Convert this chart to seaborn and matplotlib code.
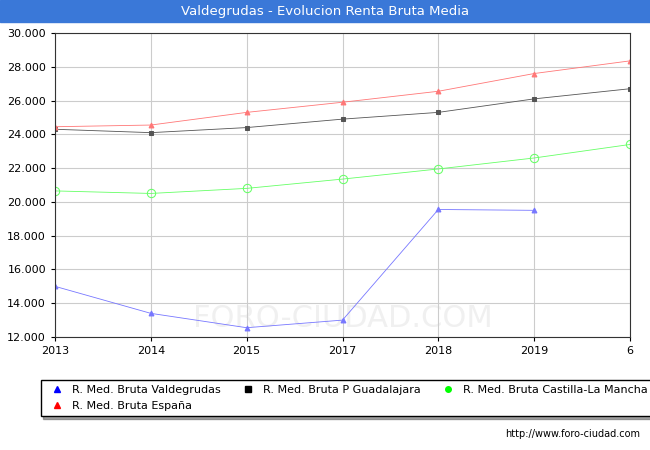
import matplotlib
matplotlib.use("Agg")
import matplotlib.pyplot as plt
import seaborn as sns
import numpy as np

years = ["2013", "2014", "2015", "2017", "2018", "2019", "6"]
valdegrudas = [15000, 13400, 12550, 13000, 19550, 19500, np.nan]
guadalajara = [24300, 24100, 24400, 24900, 25300, 26100, 26700]
clm = [20650, 20500, 20800, 21350, 21950, 22600, 23400]
espana = [24450, 24550, 25300, 25900, 26550, 27600, 28350]

fig = plt.figure(figsize=(6.5, 4.5), dpi=100)
fig.patch.set_facecolor("white")
ax = fig.add_axes([55/650, 1-337/450, 575/650, 304/450])
x = np.arange(len(years))

ax.text(0.5, 0.06, "FORO-CIUDAD.COM", fontsize=22, color="#f0f0f0",
        ha="center", va="center", transform=ax.transAxes, zorder=0)

series = [
    ("R. Med. Bruta Valdegrudas", valdegrudas, "#7777ff", "^", "#0000ff"),
    ("R. Med. Bruta P Guadalajara", guadalajara, "#555555", "s", "#000000"),
    ("R. Med. Bruta Castilla-La Mancha", clm, "#66ff66", "o", "#00ff00"),
    ("R. Med. Bruta España", espana, "#ff7777", "^", "#ff0000"),
]
handles = {}
for label, vals, col, mk, legcol in series:
    v = np.array(vals, dtype=float)
    ms = 6 if mk == "o" else 3.5
    fc = "none" if mk == "o" else col
    sns.lineplot(x=x, y=v, ax=ax, color=col, lw=0.6, marker=mk, markersize=ms,
                 markerfacecolor=fc, markeredgecolor=col, legend=False)
    h, = ax.plot([], [], ls="none", marker=mk, color=legcol, markersize=4)
    handles[label] = h

ax.set_xlim(0, len(years)-1)
ax.set_ylim(12000, 30000)
ax.set_xticks(x)
ax.set_xticklabels(years, fontsize=8)
yt = np.arange(12000, 30001, 2000)
ax.set_yticks(yt)
ax.set_yticklabels([f"{v:,}".replace(",", ".") for v in yt], fontsize=8)
ax.grid(True, color="#cccccc", lw=0.8)
ax.set_axisbelow(True)
for s in ax.spines.values():
    s.set_color("#333333")
ax.tick_params(length=3)

fig.patches.append(plt.Rectangle((0, 1-22/450), 1, 22/450, transform=fig.transFigure,
                                 color="#3a78d8", zorder=0))
fig.text(0.5, 1-11/450, "Valdegrudas - Evolucion Renta Bruta Media", color="white",
         fontsize=9.5, ha="center", va="center")

order = [series[0][0], series[3][0], series[1][0], series[2][0]]
leg = fig.legend([handles[l] for l in order], order, ncol=3,
                 loc="upper left", bbox_to_anchor=(35/650, 1-374/450), fontsize=8,
                 frameon=True, fancybox=False, shadow=True, edgecolor="black",
                 handletextpad=0.3, columnspacing=1.5, borderpad=0.5)
fig.text(640/650, 1-434/450, "http://www.foro-ciudad.com", fontsize=7, ha="right", va="center")
fig.savefig("out.png", dpi=100)
